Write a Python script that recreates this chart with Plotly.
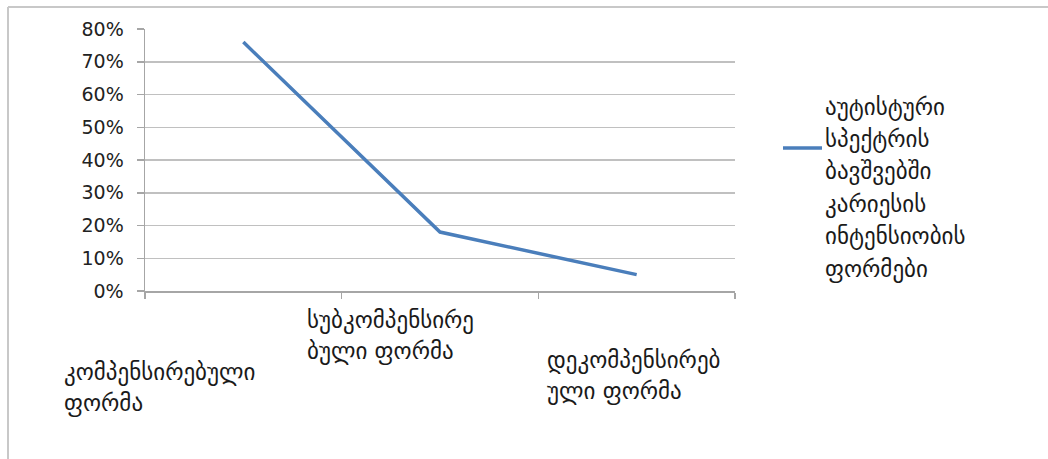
import plotly.graph_objects as go

# ---- data ----
categories = ["კომპენსირებული ფორმა", "სუბკომპენსირებული ფორმა", "დეკომპენსირებული ფორმა"]
category_label_lines = [
    ["კომპენსირებული", "ფორმა"],
    ["სუბკომპენსირე", "ბული ფორმა"],
    ["დეკომპენსირებ", "ული ფორმა"],
]
values = [0.76, 0.18, 0.05]
series_name_lines = ["აუტისტური", "სპექტრის", "ბავშვებში", "კარიესის", "ინტენსიობის", "ფორმები"]
y_tick_values = [0, 0.1, 0.2, 0.3, 0.4, 0.5, 0.6, 0.7, 0.8]
y_tick_labels = ["0%", "10%", "20%", "30%", "40%", "50%", "60%", "70%", "80%"]

# ---- layout geometry (pixels) ----
W, H = 1048, 459
L, R, T, B = 145, 735, 29, 291
GEO_FONT = "DejaVu Sans"
GEO_SIZE = 23
LINE_COLOR = "#4a7ebb"
GRID = "#c0c0c0"


def px(xp):
    return (xp - L) / (R - L)


def py(yp):
    return (B - yp) / (B - T)


fig = go.Figure()
fig.add_trace(go.Scatter(
    x=list(range(len(categories))), y=values, mode="lines",
    name=" ".join(series_name_lines),
    line=dict(color=LINE_COLOR, width=3.5),
    showlegend=False, hoverinfo="skip",
))

annotations = []
# category labels (staggered, wrapped as in the reference)
label_left = [62, 305, 545]
label_top = [372, 320, 360]
line_gap = 31
for i, lines in enumerate(category_label_lines):
    for j, t in enumerate(lines):
        annotations.append(dict(
            text=t, xref="paper", yref="paper",
            x=px(label_left[i]), y=py(label_top[i] + j * line_gap),
            xanchor="left", yanchor="middle", showarrow=False,
            font=dict(family=GEO_FONT, size=GEO_SIZE, color="#1a1a1a"),
        ))

# legend text
for j, t in enumerate(series_name_lines):
    annotations.append(dict(
        text=t, xref="paper", yref="paper",
        x=px(823), y=py(107 + j * 32.4),
        xanchor="left", yanchor="middle", showarrow=False,
        font=dict(family=GEO_FONT, size=GEO_SIZE, color="#1a1a1a"),
    ))

shapes = [
    # legend key line
    dict(type="line", xref="paper", yref="paper",
         x0=px(783), x1=px(822), y0=py(148), y1=py(148),
         line=dict(color=LINE_COLOR, width=3.5)),
    # chart area border (top and left visible)
    dict(type="line", xref="paper", yref="paper",
         x0=px(8), x1=px(W + 5), y0=py(7), y1=py(7),
         line=dict(color="#c8c8c8", width=2)),
    dict(type="line", xref="paper", yref="paper",
         x0=px(8), x1=px(8), y0=py(7), y1=py(H + 5),
         line=dict(color="#c8c8c8", width=2)),
]

fig.update_layout(
    width=W, height=H,
    margin=dict(l=L, r=W - R, t=T, b=H - B, pad=0),
    paper_bgcolor="white", plot_bgcolor="white",
    showlegend=False,
    annotations=annotations, shapes=shapes,
    xaxis=dict(
        type="linear", range=[-0.5, 2.5],
        tickvals=[-0.5, 0.5, 1.5, 2.5], showticklabels=False,
        ticks="outside", ticklen=6, tickcolor="#a6a6a6", tickwidth=1.5,
        showgrid=False, zeroline=False,
        showline=True, linecolor="#a6a6a6", linewidth=1.5,
        fixedrange=True,
    ),
    yaxis=dict(
        range=[0, 0.8], tickvals=y_tick_values, ticktext=y_tick_labels,
        ticks="outside", ticklen=7, tickcolor="#a6a6a6", tickwidth=1.5,
        showgrid=True, gridcolor=GRID, gridwidth=1.5,
        zeroline=False, showline=True, linecolor="#a6a6a6", linewidth=1.5,
        tickfont=dict(family="DejaVu Sans", size=19, color="#222222"),
        ticklabelstandoff=9,
        fixedrange=True,
    ),
)

fig.write_html(
    "out.html",
    config={"displayModeBar": False, "staticPlot": True},
    post_script="document.body.style.margin='0px';",
)
